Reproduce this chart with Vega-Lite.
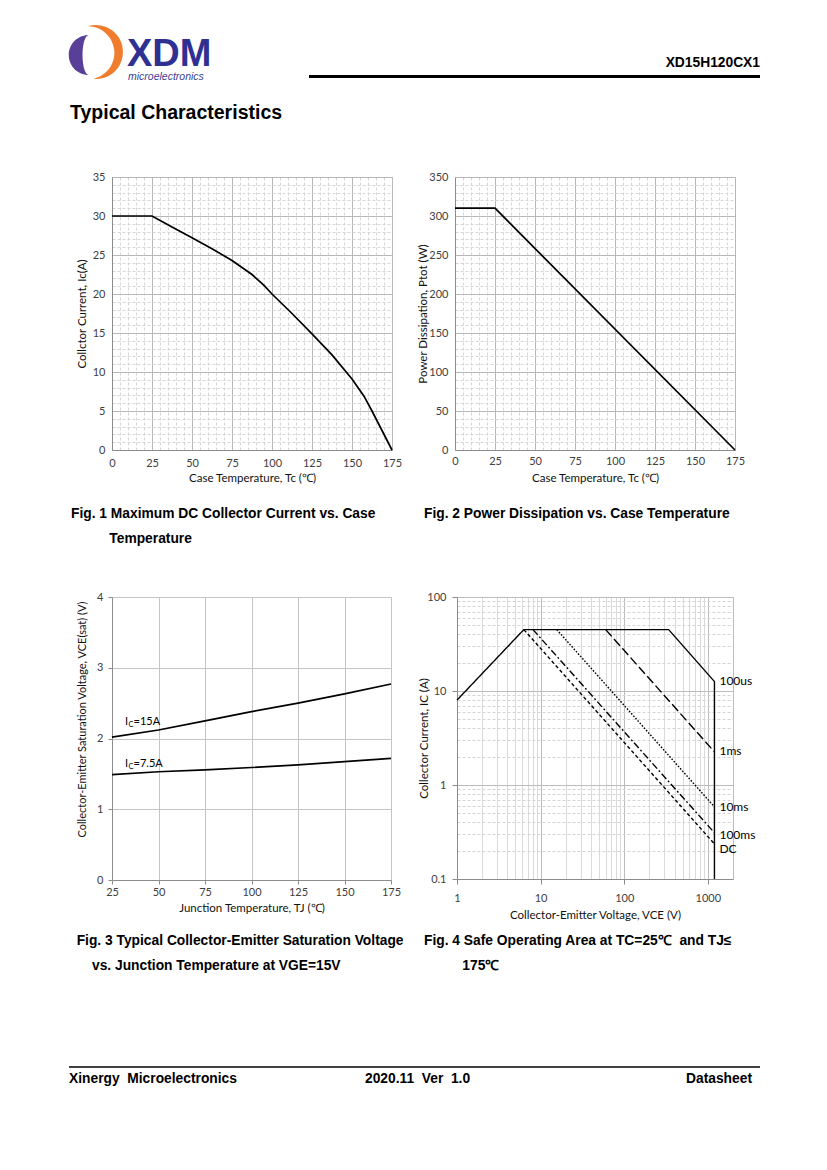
{
  "$schema": "https://vega.github.io/schema/vega-lite/v6.json",
  "padding": {"left": 68, "top": 20, "right": 10, "bottom": 10},
  "background": "white",
  "spacing": 45,
  "vconcat": [
    {
      "width": 648,
      "height": 106,
      "data": {"values": [{}]},
      "layer": [
        {
          "mark": {"type": "point", "shape": "M 0.15,-0.8 A 0.8,0.8 0 1 0 0.15,0.8 A 0.25,0.8 0 0 1 0.15,-0.8 Z", "filled": true, "color": "#5a3f99", "opacity": 1, "size": 2500, "strokeWidth": 0},
          "encoding": {
            "x": {"datum": -27, "type": "quantitative", "scale": {"domain": [0, 648], "nice": false, "zero": false}, "axis": null},
            "y": {"datum": 35, "type": "quantitative", "scale": {"domain": [0, 106], "nice": false, "zero": false, "reverse": true}, "axis": null}
          }
        },
        {
          "mark": {"type": "point", "shape": "M -0.3,-0.954 A 1,1 0 1 1 -0.1,0.995 A 0.985,0.985 0 0 0 -0.3,-0.954 Z", "filled": true, "color": "#ef7d2d", "opacity": 1, "size": 2916, "strokeWidth": 0},
          "encoding": {
            "x": {"datum": -16, "type": "quantitative", "scale": {"domain": [0, 648], "nice": false, "zero": false}, "axis": null},
            "y": {"datum": 32, "type": "quantitative", "scale": {"domain": [0, 106], "nice": false, "zero": false, "reverse": true}, "axis": null}
          }
        },
        {
          "mark": {"type": "text", "text": "XDM", "font": "Liberation Sans", "fontSize": 38, "fontWeight": "bold", "color": "#2e3192", "align": "left", "baseline": "alphabetic"},
          "encoding": {
            "x": {"datum": 15, "type": "quantitative", "scale": {"domain": [0, 648], "nice": false, "zero": false}, "axis": null},
            "y": {"datum": 46, "type": "quantitative", "scale": {"domain": [0, 106], "nice": false, "zero": false, "reverse": true}, "axis": null}
          }
        },
        {
          "mark": {"type": "text", "text": "microelectronics", "font": "Liberation Sans", "fontSize": 10.5, "fontStyle": "italic", "color": "#3d4295", "align": "left", "baseline": "alphabetic"},
          "encoding": {
            "x": {"datum": 16, "type": "quantitative", "scale": {"domain": [0, 648], "nice": false, "zero": false}, "axis": null},
            "y": {"datum": 59.5, "type": "quantitative", "scale": {"domain": [0, 106], "nice": false, "zero": false, "reverse": true}, "axis": null}
          }
        },
        {
          "mark": {"type": "text", "text": "XD15H120CX1", "font": "Liberation Sans", "fontSize": 13.8, "fontWeight": "bold", "color": "#000", "align": "right", "baseline": "alphabetic"},
          "encoding": {
            "x": {"datum": 648, "type": "quantitative", "scale": {"domain": [0, 648], "nice": false, "zero": false}, "axis": null},
            "y": {"datum": 47, "type": "quantitative", "scale": {"domain": [0, 106], "nice": false, "zero": false, "reverse": true}, "axis": null}
          }
        },
        {
          "mark": {"type": "rule", "color": "#000", "strokeWidth": 3},
          "encoding": {
            "x": {"datum": 197, "type": "quantitative", "scale": {"domain": [0, 648], "nice": false, "zero": false}, "axis": null},
            "x2": {"datum": 648},
            "y": {"datum": 56.5, "type": "quantitative", "scale": {"domain": [0, 106], "nice": false, "zero": false, "reverse": true}, "axis": null}
          }
        },
        {
          "mark": {"type": "text", "text": "Typical Characteristics", "font": "Liberation Sans", "fontSize": 19.5, "fontWeight": "bold", "color": "#000", "align": "left", "baseline": "alphabetic"},
          "encoding": {
            "x": {"datum": -42, "type": "quantitative", "scale": {"domain": [0, 648], "nice": false, "zero": false}, "axis": null},
            "y": {"datum": 99, "type": "quantitative", "scale": {"domain": [0, 106], "nice": false, "zero": false, "reverse": true}, "axis": null}
          }
        }
      ]
    },
    {
      "spacing": 15,
      "hconcat": [
        {
          "width": 280,
          "height": 273,
          "title": {"text": ["Fig. 1 Maximum DC Collector Current vs. Case", "\u200b\u00a0\u00a0\u00a0\u00a0\u00a0\u00a0\u00a0\u00a0\u00a0\u00a0Temperature"], "dx": -41, "offset": 23},
          "data": {"values": [
            {"tc": 0, "ic": 30}, {"tc": 25, "ic": 30}, {"tc": 37.5, "ic": 28.6}, {"tc": 50, "ic": 27.2},
            {"tc": 62.5, "ic": 25.8}, {"tc": 75, "ic": 24.3}, {"tc": 87.5, "ic": 22.5}, {"tc": 95, "ic": 21.1},
            {"tc": 100, "ic": 20.0}, {"tc": 112.5, "ic": 17.5}, {"tc": 125, "ic": 14.9}, {"tc": 137.5, "ic": 12.2},
            {"tc": 150, "ic": 9.1}, {"tc": 157.5, "ic": 6.9}, {"tc": 162.5, "ic": 5.0}, {"tc": 175, "ic": 0}
          ]},
          "mark": {"type": "line", "color": "#000", "strokeWidth": 1.7},
          "encoding": {
            "x": {
              "field": "tc", "type": "quantitative",
              "scale": {"domain": [0, 175], "nice": false},
              "axis": {
                "values": [0,5,10,15,20,25,30,35,40,45,50,55,60,65,70,75,80,85,90,95,100,105,110,115,120,125,130,135,140,145,150,155,160,165,170,175],
                "labelExpr": "datum.value % 25 === 0 ? datum.label : ''",
                "title": "Case Temperature, Tc (\u2103)",
                "gridColor": {"condition": {"test": "datum.value % 25 === 0", "value": "#b8b8b8"}, "value": "#d6d6d6"},
                "gridDash": {"condition": {"test": "datum.value % 25 === 0", "value": []}, "value": [3, 2]},
                "ticks": false, "tickSize": 0, "labelPadding": 7, "titlePadding": 4
              }
            },
            "y": {
              "field": "ic", "type": "quantitative",
              "scale": {"domain": [0, 35], "nice": false},
              "axis": {
                "values": [0,1,2,3,4,5,6,7,8,9,10,11,12,13,14,15,16,17,18,19,20,21,22,23,24,25,26,27,28,29,30,31,32,33,34,35],
                "labelExpr": "datum.value % 5 === 0 ? datum.label : ''",
                "title": "Collctor Current, Ic(A)",
                "gridColor": {"condition": {"test": "datum.value % 5 === 0", "value": "#b8b8b8"}, "value": "#d6d6d6"},
                "gridDash": {"condition": {"test": "datum.value % 5 === 0", "value": []}, "value": [3, 2]},
                "ticks": false, "tickSize": 0, "labelPadding": 7, "titlePadding": 5
              }
            }
          }
        },
        {
          "width": 280,
          "height": 273,
          "title": {"text": "Fig. 2 Power Dissipation vs. Case Temperature", "dx": -31, "offset": 23},
          "data": {"values": [{"tc": 0, "p": 310}, {"tc": 25, "p": 310}, {"tc": 175, "p": 0}]},
          "mark": {"type": "line", "color": "#000", "strokeWidth": 1.7},
          "encoding": {
            "x": {
              "field": "tc", "type": "quantitative",
              "scale": {"domain": [0, 175], "nice": false},
              "axis": {
                "values": [0,5,10,15,20,25,30,35,40,45,50,55,60,65,70,75,80,85,90,95,100,105,110,115,120,125,130,135,140,145,150,155,160,165,170,175],
                "labelExpr": "datum.value % 25 === 0 ? datum.label : ''",
                "title": "Case Temperature, Tc (\u2103)",
                "gridColor": {"condition": {"test": "datum.value % 25 === 0", "value": "#b8b8b8"}, "value": "#d6d6d6"},
                "gridDash": {"condition": {"test": "datum.value % 25 === 0", "value": []}, "value": [3, 2]},
                "ticks": false, "tickSize": 0, "labelPadding": 5, "titlePadding": 6
              }
            },
            "y": {
              "field": "p", "type": "quantitative",
              "scale": {"domain": [0, 350], "nice": false},
              "axis": {
                "values": [0,10,20,30,40,50,60,70,80,90,100,110,120,130,140,150,160,170,180,190,200,210,220,230,240,250,260,270,280,290,300,310,320,330,340,350],
                "labelExpr": "datum.value % 50 === 0 ? datum.label : ''",
                "title": "Power Dissipation, Ptot (W)",
                "gridColor": {"condition": {"test": "datum.value % 50 === 0", "value": "#b8b8b8"}, "value": "#d6d6d6"},
                "gridDash": {"condition": {"test": "datum.value % 50 === 0", "value": []}, "value": [3, 2]},
                "ticks": false, "tickSize": 0, "labelPadding": 7, "titlePadding": 0
              }
            }
          }
        }
      ]
    },
    {
      "spacing": 14,
      "hconcat": [
        {
          "width": 279,
          "height": 283,
          "title": {"text": ["\u200b\u00a0\u00a0Fig. 3 Typical Collector-Emitter Saturation Voltage", "\u200b\u00a0\u00a0\u00a0\u00a0\u00a0\u00a0vs. Junction Temperature at VGE=15V"], "dx": -43, "offset": 20},
          "layer": [
            {
              "data": {"values": [
                {"s": "15A", "tj": 25, "v": 2.02}, {"s": "15A", "tj": 50, "v": 2.12}, {"s": "15A", "tj": 75, "v": 2.25},
                {"s": "15A", "tj": 100, "v": 2.38}, {"s": "15A", "tj": 125, "v": 2.5}, {"s": "15A", "tj": 150, "v": 2.63},
                {"s": "15A", "tj": 175, "v": 2.77},
                {"s": "7.5A", "tj": 25, "v": 1.49}, {"s": "7.5A", "tj": 50, "v": 1.53}, {"s": "7.5A", "tj": 75, "v": 1.556},
                {"s": "7.5A", "tj": 100, "v": 1.59}, {"s": "7.5A", "tj": 125, "v": 1.627}, {"s": "7.5A", "tj": 150, "v": 1.673},
                {"s": "7.5A", "tj": 175, "v": 1.72}
              ]},
              "mark": {"type": "line", "color": "#000", "strokeWidth": 1.7},
              "encoding": {
                "x": {
                  "field": "tj", "type": "quantitative",
                  "scale": {"domain": [25, 175], "nice": false, "zero": false},
                  "axis": {
                    "values": [25, 50, 75, 100, 125, 150, 175],
                    "title": "Junction Temperature, TJ (\u2103)",
                    "gridColor": "#c4c4c4",
                    "tickSize": 4, "labelPadding": 2, "titlePadding": 5
                  }
                },
                "y": {
                  "field": "v", "type": "quantitative",
                  "scale": {"domain": [0, 4], "nice": false},
                  "axis": {
                    "values": [0,0.25,0.5,0.75,1,1.25,1.5,1.75,2,2.25,2.5,2.75,3,3.25,3.5,3.75,4],
                    "labelExpr": "abs(datum.value * 2 - round(datum.value * 2)) < 0.01 ? format(datum.value, '~g') : ''",
                    "title": "Collector-Emitter Saturation Voltage, VCE(sat) (V)",
                    "titleFontSize": 11,
                    "titleY": 122,
                    "gridColor": {"condition": {"test": "abs(datum.value * 2 - round(datum.value * 2)) < 0.01", "value": "#c4c4c4"}, "value": "#d6d6d6"},
                    "gridDash": {"condition": {"test": "abs(datum.value * 2 - round(datum.value * 2)) < 0.01", "value": []}, "value": [3, 2]},
                    "tickSize": {"condition": {"test": "abs(datum.value * 2 - round(datum.value * 2)) < 0.01", "value": 4}, "value": 0},
                    "labelPadding": 5, "titlePadding": 9
                  }
                },
                "detail": {"field": "s"}
              }
            },
            {
              "data": {"values": [{"lab": "=15A", "tj": 32, "v": 2.23}, {"lab": "=7.5A", "tj": 32, "v": 1.645}]},
              "mark": {"type": "text", "text": "I", "font": "Lato", "fontSize": 11, "align": "left", "baseline": "middle", "color": "#000"},
              "encoding": {"x": {"field": "tj", "type": "quantitative"}, "y": {"field": "v", "type": "quantitative"}}
            },
            {
              "data": {"values": [{"lab": "=15A", "tj": 32, "v": 2.23}, {"lab": "=7.5A", "tj": 32, "v": 1.645}]},
              "mark": {"type": "text", "text": "C", "font": "Lato", "fontSize": 7.5, "align": "left", "baseline": "middle", "dx": 3.5, "dy": 3, "color": "#000"},
              "encoding": {"x": {"field": "tj", "type": "quantitative"}, "y": {"field": "v", "type": "quantitative"}}
            },
            {
              "data": {"values": [{"lab": "=15A", "tj": 32, "v": 2.23}, {"lab": "=7.5A", "tj": 32, "v": 1.645}]},
              "mark": {"type": "text", "font": "Lato", "fontSize": 11, "align": "left", "baseline": "middle", "dx": 8.5, "color": "#000"},
              "encoding": {"x": {"field": "tj", "type": "quantitative"}, "y": {"field": "v", "type": "quantitative"}, "text": {"field": "lab"}}
            }
          ]
        },
        {
          "width": 276,
          "height": 282,
          "title": {"text": ["Fig. 4 Safe Operating Area at TC=25\u2103\u00a0 and TJ\u2264", "\u200b\u00a0\u00a0\u00a0\u00a0\u00a0\u00a0\u00a0\u00a0\u00a0\u00a0175\u2103"], "dx": -33, "offset": 13},
          "layer": [
            {
              "data": {"values": [
                {"s": "100us", "i": 1, "vce": 1, "ic": 8},
                {"s": "100us", "i": 2, "vce": 6.3, "ic": 45},
                {"s": "100us", "i": 3, "vce": 340, "ic": 45},
                {"s": "100us", "i": 4, "vce": 1200, "ic": 12.6},
                {"s": "100us", "i": 5, "vce": 1200, "ic": 0.1},
                {"s": "1ms", "i": 1, "vce": 60, "ic": 45},
                {"s": "1ms", "i": 2, "vce": 1200, "ic": 2.25},
                {"s": "10ms", "i": 1, "vce": 15.6, "ic": 45},
                {"s": "10ms", "i": 2, "vce": 1200, "ic": 0.585},
                {"s": "100ms", "i": 1, "vce": 8.1, "ic": 45},
                {"s": "100ms", "i": 2, "vce": 1200, "ic": 0.31},
                {"s": "DC", "i": 1, "vce": 6.3, "ic": 45},
                {"s": "DC", "i": 2, "vce": 1200, "ic": 0.236}
              ]},
              "mark": {"type": "line", "color": "#000", "strokeWidth": 1.4},
              "encoding": {
                "x": {
                  "field": "vce", "type": "quantitative",
                  "scale": {"type": "log", "domain": [1, 2000], "nice": false},
                  "axis": {
                    "values": [1,2,3,4,5,6,7,8,9,10,20,30,40,50,60,70,80,90,100,200,300,400,500,600,700,800,900,1000,2000],
                    "labelExpr": "indexof([1,10,100,1000], datum.value) >= 0 ? format(datum.value, '~g') : ''",
                    "title": "Collector-Emitter Voltage, VCE (V)",
                    "gridColor": {"condition": {"test": "indexof([1,10,100,1000,2000], datum.value) >= 0", "value": "#bcbcbc"}, "value": "#dadada"},
                    "tickSize": {"condition": {"test": "indexof([1,10,100,1000], datum.value) >= 0", "value": 5}, "value": 0},
                    "labelPadding": 8, "titlePadding": 6
                  }
                },
                "y": {
                  "field": "ic", "type": "quantitative",
                  "scale": {"type": "log", "domain": [0.1, 100], "nice": false},
                  "axis": {
                    "values": [0.1,0.2,0.3,0.4,0.5,0.6,0.7,0.8,0.9,1,2,3,4,5,6,7,8,9,10,20,30,40,50,60,70,80,90,100],
                    "labelExpr": "indexof([0.1,1,10,100], datum.value) >= 0 ? format(datum.value, '~g') : ''",
                    "title": "Collector Current, IC (A)",
                    "gridColor": {"condition": {"test": "indexof([0.1,1,10,100], datum.value) >= 0", "value": "#bcbcbc"}, "value": "#d4d4d4"},
                    "gridDash": {"condition": {"test": "indexof([0.1,1,10,100], datum.value) >= 0", "value": []}, "value": [3, 2]},
                    "tickSize": {"condition": {"test": "indexof([0.1,1,10,100], datum.value) >= 0", "value": 5}, "value": 0},
                    "labelPadding": 6, "titlePadding": -3
                  }
                },
                "order": {"field": "i", "type": "quantitative"},
                "strokeDash": {
                  "field": "s", "type": "nominal",
                  "scale": {"domain": ["100us", "1ms", "10ms", "100ms", "DC"], "range": [[1, 0], [9, 3.5], [1.6, 1.6], [7, 2.5, 1.8, 2.5], [3.5, 2.5]]},
                  "legend": null
                }
              }
            },
            {
              "data": {"values": [
                {"s": "100us", "vce": 1200, "ic": 12.8},
                {"s": "1ms", "vce": 1200, "ic": 2.3},
                {"s": "10ms", "vce": 1200, "ic": 0.585},
                {"s": "100ms", "vce": 1200, "ic": 0.295},
                {"s": "DC", "vce": 1200, "ic": 0.21}
              ]},
              "mark": {"type": "text", "font": "Lato", "fontSize": 12, "align": "left", "baseline": "middle", "dx": 5, "color": "#000"},
              "encoding": {
                "x": {"field": "vce", "type": "quantitative", "scale": {"type": "log", "domain": [1, 2000], "nice": false}},
                "y": {"field": "ic", "type": "quantitative", "scale": {"type": "log", "domain": [0.1, 100], "nice": false}},
                "text": {"field": "s"}
              }
            }
          ]
        }
      ]
    },
    {
      "width": 648,
      "height": 70,
      "data": {"values": [{}]},
      "layer": [
        {
          "mark": {"type": "rule", "color": "#000", "strokeWidth": 1.5},
          "encoding": {
            "x": {"datum": -43, "type": "quantitative", "scale": {"domain": [0, 648], "nice": false, "zero": false}, "axis": null},
            "x2": {"datum": 648},
            "y": {"datum": 49, "type": "quantitative", "scale": {"domain": [0, 70], "nice": false, "zero": false, "reverse": true}, "axis": null}
          }
        },
        {
          "mark": {"type": "text", "text": "Xinergy\u00a0 Microelectronics", "font": "Liberation Sans", "fontSize": 13.8, "fontWeight": "bold", "color": "#000", "align": "left", "baseline": "alphabetic"},
          "encoding": {
            "x": {"datum": -43, "type": "quantitative", "scale": {"domain": [0, 648], "nice": false, "zero": false}, "axis": null},
            "y": {"datum": 65, "type": "quantitative", "scale": {"domain": [0, 70], "nice": false, "zero": false, "reverse": true}, "axis": null}
          }
        },
        {
          "mark": {"type": "text", "text": "2020.11\u00a0 Ver\u00a0 1.0", "font": "Liberation Sans", "fontSize": 13.8, "fontWeight": "bold", "color": "#000", "align": "left", "baseline": "alphabetic"},
          "encoding": {
            "x": {"datum": 253, "type": "quantitative", "scale": {"domain": [0, 648], "nice": false, "zero": false}, "axis": null},
            "y": {"datum": 65, "type": "quantitative", "scale": {"domain": [0, 70], "nice": false, "zero": false, "reverse": true}, "axis": null}
          }
        },
        {
          "mark": {"type": "text", "text": "Datasheet", "font": "Liberation Sans", "fontSize": 13.8, "fontWeight": "bold", "color": "#000", "align": "right", "baseline": "alphabetic"},
          "encoding": {
            "x": {"datum": 640, "type": "quantitative", "scale": {"domain": [0, 648], "nice": false, "zero": false}, "axis": null},
            "y": {"datum": 65, "type": "quantitative", "scale": {"domain": [0, 70], "nice": false, "zero": false, "reverse": true}, "axis": null}
          }
        }
      ]
    }
  ],
  "config": {
    "view": {"stroke": null},
    "axis": {
      "labelFont": "Lato", "labelFontSize": 11, "labelColor": "#404040",
      "titleFont": "Lato", "titleFontSize": 11.5, "titleFontWeight": "normal", "titleColor": "#111",
      "domainColor": "#8c8c8c", "tickColor": "#8c8c8c",
      "labelFlush": false, "labelOverlap": false, "grid": true
    },
    "title": {"font": "Liberation Sans", "fontSize": 13.8, "fontWeight": "bold", "color": "#000", "orient": "bottom", "anchor": "start", "frame": "group", "lineHeight": 25}
  }
}
